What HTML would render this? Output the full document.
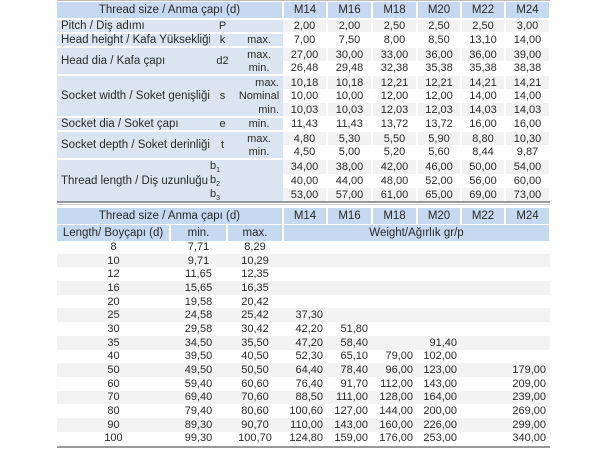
<!DOCTYPE html>
<html><head><meta charset="utf-8"><style>
body{margin:0;width:600px;height:450px;background:#fff;position:relative;overflow:hidden;font-family:"Liberation Sans","DejaVu Sans",sans-serif;font-size:11px;color:#2a2a2a}
table{position:absolute;border-collapse:collapse;table-layout:fixed}
td{padding:0;text-align:center;white-space:nowrap;overflow:hidden;line-height:12px}
.h td{background:#c6d9f0;height:16px;font-size:11.5px;border-right:2px solid #fff}
.lb{background:#dbe5f1;text-align:left;padding-left:4px;font-size:11.5px}
.s{background:#dbe5f1}
.g td.d{background:#f2f2f2}
td.d{border-right:2px solid #fff}
.sep td{border-top:2px solid #fff}
.r td{text-align:right;padding-right:4px}
.r td.c{text-align:center;padding-right:0}
.alt td{background:#f3f3f3}
.sb{font-size:7px;position:relative;top:3px}
</style></head><body>
<div style="position:absolute;left:57px;top:0;width:493px;height:1px;background:#bbb"></div>
<table style="left:57px;top:2px;width:493px">
<colgroup><col style="width:153px"><col style="width:25px"><col style="width:48px"><col style="width:44px"><col style="width:45px"><col style="width:45px"><col style="width:44px"><col style="width:44px"><col style="width:45px"></colgroup>
<tr class="h"><td colspan="3">Thread size / Anma çapı (d)</td><td>M14</td><td>M16</td><td>M18</td><td>M20</td><td>M22</td><td>M24</td></tr>
<tr style="height:14px" class="sep g"><td class="lb">Pitch / Diş adımı</td><td class="s">P</td><td class="s"></td><td class="d">2,00</td><td class="d">2,00</td><td class="d">2,50</td><td class="d">2,50</td><td class="d">2,50</td><td class="d">3,00</td></tr>
<tr style="height:14px" class="sep"><td class="lb">Head height / Kafa Yüksekliği</td><td class="s">k</td><td class="s">max.</td><td class="d">7,00</td><td class="d">7,50</td><td class="d">8,00</td><td class="d">8,50</td><td class="d">13,10</td><td class="d">14,00</td></tr>
<tr style="height:14px" class="sep g"><td class="lb" rowspan="2">Head dia / Kafa çapı</td><td class="s" rowspan="2">d2</td><td class="s">max.</td><td class="d">27,00</td><td class="d">30,00</td><td class="d">33,00</td><td class="d">36,00</td><td class="d">36,00</td><td class="d">39,00</td></tr>
<tr style="height:14px"><td class="s">min.</td><td class="d">26,48</td><td class="d">29,48</td><td class="d">32,38</td><td class="d">35,38</td><td class="d">35,38</td><td class="d">38,38</td></tr>
<tr style="height:14px" class="sep g"><td class="lb" rowspan="3">Socket width / Soket genişliği</td><td class="s" rowspan="3">s</td><td class="s" style="text-align:right;padding-right:4px">max.</td><td class="d">10,18</td><td class="d">10,18</td><td class="d">12,21</td><td class="d">12,21</td><td class="d">14,21</td><td class="d">14,21</td></tr>
<tr style="height:14px"><td class="s">Nominal</td><td class="d">10,00</td><td class="d">10,00</td><td class="d">12,00</td><td class="d">12,00</td><td class="d">14,00</td><td class="d">14,00</td></tr>
<tr style="height:14px" class="g"><td class="s" style="text-align:right;padding-right:4px">min.</td><td class="d">10,03</td><td class="d">10,03</td><td class="d">12,03</td><td class="d">12,03</td><td class="d">14,03</td><td class="d">14,03</td></tr>
<tr style="height:14px" class="sep"><td class="lb">Socket dia / Soket çapı</td><td class="s">e</td><td class="s">min.</td><td class="d">11,43</td><td class="d">11,43</td><td class="d">13,72</td><td class="d">13,72</td><td class="d">16,00</td><td class="d">16,00</td></tr>
<tr style="height:14px" class="sep g"><td class="lb" rowspan="2">Socket depth / Soket derinliği</td><td class="s" rowspan="2">t</td><td class="s">max.</td><td class="d">4,80</td><td class="d">5,30</td><td class="d">5,50</td><td class="d">5,90</td><td class="d">8,80</td><td class="d">10,30</td></tr>
<tr style="height:14px"><td class="s">min.</td><td class="d">4,50</td><td class="d">5,00</td><td class="d">5,20</td><td class="d">5,60</td><td class="d">8,44</td><td class="d">9,87</td></tr>
<tr style="height:14px" class="sep g"><td class="lb" rowspan="3">Thread length / Diş uzunluğu</td><td class="s" style="text-align:left">b<span class="sb">1</span></td><td class="s" rowspan="3"></td><td class="d">34,00</td><td class="d">38,00</td><td class="d">42,00</td><td class="d">46,00</td><td class="d">50,00</td><td class="d">54,00</td></tr>
<tr style="height:14px"><td class="s" style="text-align:left">b<span class="sb">2</span></td><td class="d">40,00</td><td class="d">44,00</td><td class="d">48,00</td><td class="d">52,00</td><td class="d">56,00</td><td class="d">60,00</td></tr>
<tr style="height:14px" class="g"><td class="s" style="text-align:left">b<span class="sb">3</span></td><td class="d">53,00</td><td class="d">57,00</td><td class="d">61,00</td><td class="d">65,00</td><td class="d">69,00</td><td class="d">73,00</td></tr>
</table>
<div style="position:absolute;left:57px;top:201px;width:493px;height:2px;background:#999"></div>
<div style="position:absolute;left:57px;top:204px;width:493px;height:1px;background:#ccc"></div>
<table style="left:57px;top:208px;width:493px">
<colgroup><col style="width:113px"><col style="width:57px"><col style="width:56px"><col style="width:44px"><col style="width:45px"><col style="width:45px"><col style="width:44px"><col style="width:44px"><col style="width:45px"></colgroup>
<tr class="h"><td colspan="3">Thread size / Anma çapı (d)</td><td>M14</td><td>M16</td><td>M18</td><td>M20</td><td>M22</td><td>M24</td></tr>
<tr class="h" style="border-top:1px solid #fff"><td>Length/ Boyçapı (d)</td><td>min.</td><td>max.</td><td colspan="6">Weight/Ağırlık gr/p</td></tr>
</table>
<table class="r" style="left:57px;top:240px;width:493px">
<colgroup><col style="width:113px"><col style="width:57px"><col style="width:56px"><col style="width:44px"><col style="width:45px"><col style="width:45px"><col style="width:44px"><col style="width:44px"><col style="width:45px"></colgroup>
<tr style="height:13.7px"><td class="c">8</td><td class="c">7,71</td><td class="c">8,29</td><td></td><td></td><td></td><td></td><td></td><td></td></tr>
<tr style="height:13.7px" class="alt"><td class="c">10</td><td class="c">9,71</td><td class="c">10,29</td><td></td><td></td><td></td><td></td><td></td><td></td></tr>
<tr style="height:13.7px"><td class="c">12</td><td class="c">11,65</td><td class="c">12,35</td><td></td><td></td><td></td><td></td><td></td><td></td></tr>
<tr style="height:13.7px" class="alt"><td class="c">16</td><td class="c">15,65</td><td class="c">16,35</td><td></td><td></td><td></td><td></td><td></td><td></td></tr>
<tr style="height:13.7px"><td class="c">20</td><td class="c">19,58</td><td class="c">20,42</td><td></td><td></td><td></td><td></td><td></td><td></td></tr>
<tr style="height:13.7px" class="alt"><td class="c">25</td><td class="c">24,58</td><td class="c">25,42</td><td>37,30</td><td></td><td></td><td></td><td></td><td></td></tr>
<tr style="height:13.7px"><td class="c">30</td><td class="c">29,58</td><td class="c">30,42</td><td>42,20</td><td>51,80</td><td></td><td></td><td></td><td></td></tr>
<tr style="height:13.7px" class="alt"><td class="c">35</td><td class="c">34,50</td><td class="c">35,50</td><td>47,20</td><td>58,40</td><td></td><td>91,40</td><td></td><td></td></tr>
<tr style="height:13.7px"><td class="c">40</td><td class="c">39,50</td><td class="c">40,50</td><td>52,30</td><td>65,10</td><td>79,00</td><td>102,00</td><td></td><td></td></tr>
<tr style="height:13.7px" class="alt"><td class="c">50</td><td class="c">49,50</td><td class="c">50,50</td><td>64,40</td><td>78,40</td><td>96,00</td><td>123,00</td><td></td><td>179,00</td></tr>
<tr style="height:13.7px"><td class="c">60</td><td class="c">59,40</td><td class="c">60,60</td><td>76,40</td><td>91,70</td><td>112,00</td><td>143,00</td><td></td><td>209,00</td></tr>
<tr style="height:13.7px" class="alt"><td class="c">70</td><td class="c">69,40</td><td class="c">70,60</td><td>88,50</td><td>111,00</td><td>128,00</td><td>164,00</td><td></td><td>239,00</td></tr>
<tr style="height:13.7px"><td class="c">80</td><td class="c">79,40</td><td class="c">80,60</td><td>100,60</td><td>127,00</td><td>144,00</td><td>200,00</td><td></td><td>269,00</td></tr>
<tr style="height:13.7px" class="alt"><td class="c">90</td><td class="c">89,30</td><td class="c">90,70</td><td>110,00</td><td>143,00</td><td>160,00</td><td>226,00</td><td></td><td>299,00</td></tr>
<tr style="height:13.7px"><td class="c">100</td><td class="c">99,30</td><td class="c">100,70</td><td>124,80</td><td>159,00</td><td>176,00</td><td>253,00</td><td></td><td>340,00</td></tr>
</table>
<div style="position:absolute;left:57px;top:446px;width:493px;height:2px;background:#999"></div>
</body></html>
